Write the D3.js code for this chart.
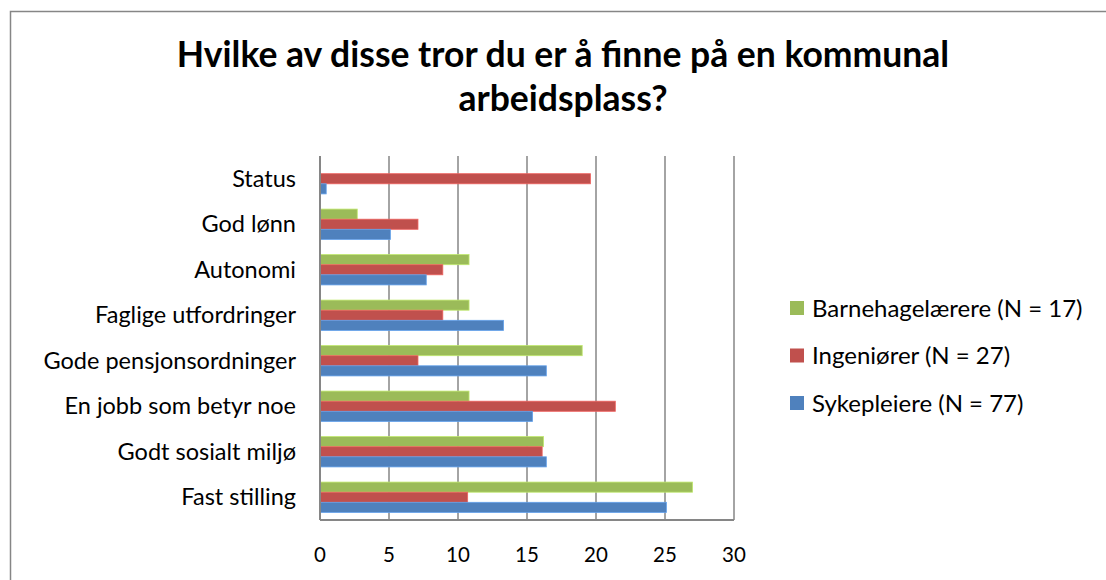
<!DOCTYPE html>
<html>
<head>
<meta charset="utf-8">
<script src="https://cdn.jsdelivr.net/npm/d3@7"></script>
<style>
  body { margin: 0; background: #fff; }
  text { font-family: Lato, "Open Sans", sans-serif; fill: #000; }
</style>
</head>
<body>
<div id="chart-area"></div>
<script>
// categories, top to bottom
var categories = ["Status", "God lønn", "Autonomi", "Faglige utfordringer",
  "Gode pensjonsordninger", "En jobb som betyr noe", "Godt sosialt miljø", "Fast stilling"];

// series values
var barnehage   = [0, 2.7, 10.8, 10.8, 19.0, 10.8, 16.2, 27.0];
var ingeniorer  = [19.6, 7.1, 8.9, 8.9, 7.1, 21.4, 16.1, 10.7];
var sykepleiere = [0.45, 5.1, 7.7, 13.3, 16.4, 15.4, 16.4, 25.1];

var seriesNames = ["Barnehagelærere (N = 17)", "Ingeniører (N = 27)", "Sykepleiere (N = 77)"];
var seriesColors = ["#9bbb59", "#c0504d", "#4f81bd"];
var xTicks = [0, 5, 10, 15, 20, 25, 30];

var titleLines = ["Hvilke av disse tror du er å finne på en kommunal", "arbeidsplass?"];

var W = 1106, H = 580;
var plot = { left: 320, right: 734, top: 156, bottom: 520 };

var svg = d3.select("#chart-area")
    .append("svg")
    .attr("width", W)
    .attr("height", H);

// outer chart frame (runs off the right and bottom of the picture)
svg.append("rect")
    .attr("x", 10.5).attr("y", 11.5)
    .attr("width", W + 20).attr("height", H + 20)
    .attr("fill", "none")
    .attr("stroke", "#868686")
    .attr("stroke-width", 1.5);

// title
svg.selectAll(".title")
    .data(titleLines)
  .enter().append("text")
    .attr("class", "title")
    .attr("x", 563)
    .attr("y", (d, i) => 67 + i * 44)
    .attr("text-anchor", "middle")
    .attr("font-size", "35.5px")
    .attr("font-weight", "bold")
    .text(d => d);

var xScale = d3.scaleLinear()
    .domain([0, 30])
    .range([plot.left, plot.right]);

var yScale = d3.scaleBand()
    .domain(categories)
    .range([plot.top, plot.bottom])
    .paddingInner(0)
    .paddingOuter(0);

var inner = d3.scaleBand()
    .domain([0, 1, 2])
    .range([0, yScale.bandwidth()])
    .paddingOuter(0.75)
    .paddingInner(0);

// vertical gridlines
svg.append("g")
    .selectAll("line")
    .data(xTicks.slice(1))
  .enter().append("line")
    .attr("x1", d => xScale(d)).attr("x2", d => xScale(d))
    .attr("y1", plot.top).attr("y2", plot.bottom)
    .attr("stroke", "#868686")
    .attr("stroke-width", 1.5);

// bars
var series = [barnehage, ingeniorer, sykepleiere];
series.forEach((vals, s) => {
  svg.append("g")
      .selectAll("rect")
      .data(vals)
    .enter().append("rect")
      .attr("x", xScale(0))
      .attr("y", (d, i) => yScale(categories[i]) + inner(s))
      .attr("width", d => xScale(d) - xScale(0))
      .attr("height", inner.bandwidth())
      .attr("fill", seriesColors[s])
      .attr("stroke", d3.color(seriesColors[s]).brighter(0.6))
      .attr("stroke-width", 0.8);
});

// axes lines
svg.append("line")
    .attr("x1", plot.left).attr("x2", plot.right)
    .attr("y1", plot.bottom).attr("y2", plot.bottom)
    .attr("stroke", "#868686").attr("stroke-width", 2);
svg.append("line")
    .attr("x1", plot.left).attr("x2", plot.left)
    .attr("y1", plot.top).attr("y2", plot.bottom)
    .attr("stroke", "#868686").attr("stroke-width", 2);

// x tick labels
svg.append("g")
    .selectAll("text")
    .data(xTicks)
  .enter().append("text")
    .attr("x", d => xScale(d))
    .attr("y", 562)
    .attr("text-anchor", "middle")
    .attr("font-size", "20.5px")
    .text(d => d);

// category labels
svg.append("g")
    .selectAll("text")
    .data(categories)
  .enter().append("text")
    .attr("x", 296)
    .attr("y", d => yScale(d) + yScale.bandwidth() / 2 + 8)
    .attr("text-anchor", "end")
    .attr("font-size", "23.5px")
    .text(d => d);

// legend
var legend = svg.append("g")
    .attr("transform", "translate(790,301)");

seriesNames.forEach((name, i) => {
  var row = legend.append("g").attr("transform", "translate(0," + i * 47.5 + ")");
  row.append("rect")
      .attr("width", 14).attr("height", 14)
      .attr("fill", seriesColors[i]);
  row.append("text")
      .attr("x", 22)
      .attr("y", 15.5)
      .attr("font-size", "24px")
      .text(name);
});
</script>
</body>
</html>
